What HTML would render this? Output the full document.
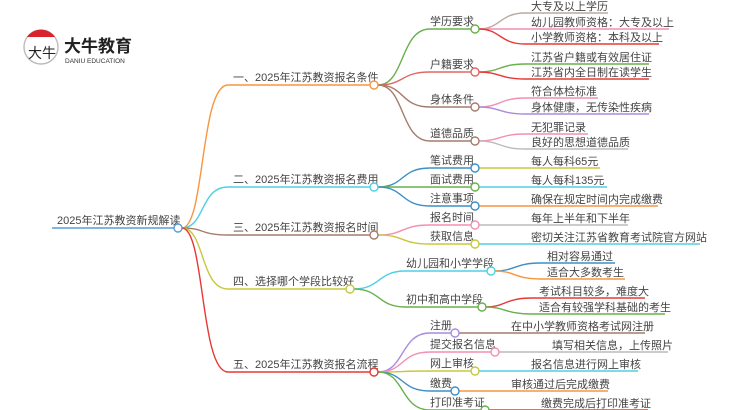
<!DOCTYPE html>
<html><head><meta charset="utf-8"><style>
html,body{margin:0;padding:0;background:#fff;}
svg{display:block;}
text{font-family:"Liberation Sans","Noto Sans CJK SC",sans-serif;font-size:11px;fill:#444;}
path{fill:none;stroke-width:1.4;}
circle{fill:#fff;stroke-width:1.4;}
</style></head><body>
<svg width="750" height="410" viewBox="0 0 750 410" xmlns="http://www.w3.org/2000/svg">
<!-- logo -->
<circle cx="41" cy="47" r="17" stroke="#bbb" stroke-width="1"/>
<path d="M27 37 A17 17 0 0 1 55 37 Z" style="fill:#d8232a;stroke:none"/>
<text x="28" y="58" style="font-size:14px;fill:#222">大牛</text>
<text x="64" y="52" style="font-size:17px;font-weight:bold;fill:#222">大牛教育</text>
<text x="65" y="63" style="font-size:6.5px;fill:#333">DANIU EDUCATION</text>

<!-- root -->
<path d="M52 228 H174" stroke="#5b9bd5"/>
<text x="57" y="224">2025年江苏教资新规解读</text>

<!-- level1 -->
<path d="M182 228 C205 228 200 85 228 85 H370" stroke="#f7963f"/>
<path d="M182 228 C205 228 200 187 228 187 H370" stroke="#4dd0e1"/>
<path d="M182 228 C205 228 200 235 228 235 H370" stroke="#a67c6d"/>
<path d="M182 228 C205 228 200 289 228 289 H346" stroke="#c8c83c"/>
<path d="M182 228 C205 228 200 372 228 372 H370" stroke="#e53935"/>
<circle cx="178" cy="228" r="4" stroke="#5b9bd5"/>
<text x="233" y="81">一、2025年江苏教资报名条件</text>
<text x="233" y="183">二、2025年江苏教资报名费用</text>
<text x="233" y="231">三、2025年江苏教资报名时间</text>
<text x="233" y="285">四、选择哪个学段比较好</text>
<text x="233" y="368">五、2025年江苏教资报名流程</text>

<!-- B1 subs -->
<path d="M378 85 C405 85 400 29 430 29 H471" stroke="#6ab04c"/>
<path d="M378 85 C405 85 400 72 430 72 H471" stroke="#e06666"/>
<path d="M378 85 C405 85 400 107 430 107 H471" stroke="#a67c6d"/>
<path d="M378 85 C405 85 400 141 430 141 H471" stroke="#a67c6d"/>
<circle cx="374" cy="85" r="4" stroke="#f7963f"/>
<text x="430" y="25">学历要求</text>
<text x="430" y="68">户籍要求</text>
<text x="430" y="103">身体条件</text>
<text x="430" y="137">道德品质</text>
<!-- B1 leaves -->
<path d="M479 29 C500 29 500 13 525 13 H608" stroke="#bcaaa4"/>
<path d="M479 29 C500 29 500 29 525 29 H669" stroke="#f48fb1"/>
<path d="M479 29 C500 29 500 44 525 44 H659" stroke="#e53935"/>
<path d="M479 72 C500 72 500 64 525 64 H649" stroke="#6ab04c"/>
<path d="M479 72 C500 72 500 79 525 79 H649" stroke="#e53935"/>
<path d="M479 107 C500 107 500 98 525 98 H598" stroke="#f48fb1"/>
<path d="M479 107 C500 107 500 114 525 114 H649" stroke="#a98ce0"/>
<path d="M479 141 C500 141 500 134 525 134 H588" stroke="#f48fb1"/>
<path d="M479 141 C500 141 500 149 525 149 H628" stroke="#bbb"/>
<circle cx="475" cy="29" r="4" stroke="#6ab04c"/>
<circle cx="475" cy="72" r="4" stroke="#e06666"/>
<circle cx="475" cy="107" r="4" stroke="#a67c6d"/>
<circle cx="475" cy="141" r="4" stroke="#a67c6d"/>
<text x="531" y="10">大专及以上学历</text>
<text x="531" y="26">幼儿园教师资格：大专及以上</text>
<text x="531" y="41">小学教师资格：本科及以上</text>
<text x="531" y="61">江苏省户籍或有效居住证</text>
<text x="531" y="76">江苏省内全日制在读学生</text>
<text x="531" y="95">符合体检标准</text>
<text x="531" y="111">身体健康，无传染性疾病</text>
<text x="531" y="131">无犯罪记录</text>
<text x="531" y="146">良好的思想道德品质</text>

<!-- B2 -->
<path d="M378 187 C405 187 400 168 430 168 H471" stroke="#3d8fc6"/>
<path d="M378 187 C405 187 400 187 430 187 H471" stroke="#6ab04c"/>
<path d="M378 187 C405 187 400 206 430 206 H471" stroke="#3d8fc6"/>
<circle cx="374" cy="187" r="4" stroke="#4dd0e1"/>
<text x="430" y="164">笔试费用</text>
<text x="430" y="183">面试费用</text>
<text x="430" y="202">注意事项</text>
<path d="M479 168 H600" stroke="#c8c83c"/>
<path d="M479 187 H607" stroke="#4dd0e1"/>
<path d="M479 206 H658" stroke="#f7963f"/>
<circle cx="475" cy="168" r="4" stroke="#3d8fc6"/>
<circle cx="475" cy="187" r="4" stroke="#6ab04c"/>
<circle cx="475" cy="206" r="4" stroke="#3d8fc6"/>
<text x="531" y="165">每人每科65元</text>
<text x="531" y="184">每人每科135元</text>
<text x="531" y="203">确保在规定时间内完成缴费</text>

<!-- B3 -->
<path d="M378 235 C405 235 400 225 430 225 H471" stroke="#f48fb1"/>
<path d="M378 235 C405 235 400 244 430 244 H471" stroke="#c8c83c"/>
<circle cx="374" cy="235" r="4" stroke="#a67c6d"/>
<text x="430" y="221">报名时间</text>
<text x="430" y="240">获取信息</text>
<path d="M479 225 H628" stroke="#bbb"/>
<path d="M479 244 H700" stroke="#4dd0e1"/>
<circle cx="475" cy="225" r="4" stroke="#f48fb1"/>
<circle cx="475" cy="244" r="4" stroke="#c8c83c"/>
<text x="531" y="222">每年上半年和下半年</text>
<text x="531" y="241">密切关注江苏省教育考试院官方网站</text>

<!-- B4 -->
<path d="M354 289 C380 289 378 271 405 271 H487" stroke="#4dd0e1"/>
<path d="M354 289 C380 289 378 307 405 307 H478" stroke="#6ab04c"/>
<circle cx="350" cy="289" r="4" stroke="#c8c83c"/>
<text x="406" y="267">幼儿园和小学学段</text>
<text x="406" y="303">初中和高中学段</text>
<path d="M495 271 C515 271 515 263 540 263 H615" stroke="#3d8fc6"/>
<path d="M495 271 C515 271 515 279 540 279 H625" stroke="#f7963f"/>
<path d="M486 307 C505 307 505 298 532 298 H645" stroke="#e53935"/>
<path d="M486 307 C505 307 505 314 532 314 H665" stroke="#6ab04c"/>
<circle cx="491" cy="271" r="4" stroke="#4dd0e1"/>
<circle cx="482" cy="307" r="4" stroke="#6ab04c"/>
<text x="547" y="260">相对容易通过</text>
<text x="547" y="276">适合大多数考生</text>
<text x="539" y="295">考试科目较多，难度大</text>
<text x="539" y="311">适合有较强学科基础的考生</text>

<!-- B5 -->
<path d="M378 372 C405 372 400 333 430 333 H451" stroke="#a98ce0"/>
<path d="M378 372 C405 372 400 352 430 352 H491" stroke="#f48fb1"/>
<path d="M378 372 C405 372 400 371 430 371 H471" stroke="#c8c83c"/>
<path d="M378 372 C405 372 400 391 430 391 H451" stroke="#3d8fc6"/>
<path d="M378 372 C405 372 400 410 430 410 H481" stroke="#6ab04c"/>
<circle cx="374" cy="372" r="4" stroke="#e53935"/>
<text x="430" y="329">注册</text>
<text x="430" y="348">提交报名信息</text>
<text x="430" y="367">网上审核</text>
<text x="430" y="387">缴费</text>
<text x="430" y="406">打印准考证</text>
<path d="M459 333 H645" stroke="#a67c6d"/>
<path d="M499 352 H668" stroke="#bbb"/>
<path d="M479 371 H638" stroke="#4dd0e1"/>
<path d="M459 391 H608" stroke="#f7963f"/>
<path d="M489 410 H648" stroke="#e53935"/>
<circle cx="455" cy="333" r="4" stroke="#a98ce0"/>
<circle cx="495" cy="352" r="4" stroke="#f48fb1"/>
<circle cx="475" cy="371" r="4" stroke="#c8c83c"/>
<circle cx="455" cy="391" r="4" stroke="#3d8fc6"/>
<circle cx="485" cy="410" r="4" stroke="#6ab04c"/>
<text x="511" y="330">在中小学教师资格考试网注册</text>
<text x="552" y="349">填写相关信息，上传照片</text>
<text x="531" y="368">报名信息进行网上审核</text>
<text x="511" y="388">审核通过后完成缴费</text>
<text x="541" y="407">缴费完成后打印准考证</text>
</svg>
</body></html>
